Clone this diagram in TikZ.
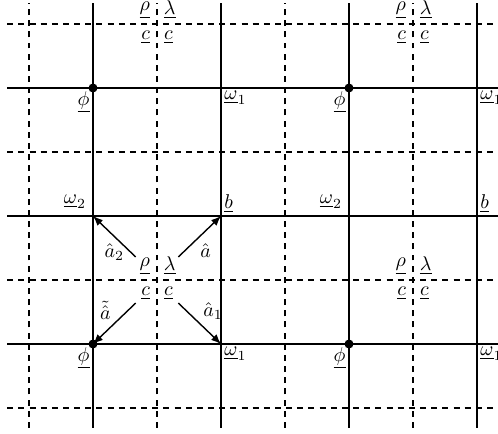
\documentclass[tikz,border=0pt]{standalone}
\usetikzlibrary{arrows.meta}
\begin{document}
\begin{tikzpicture}[scale=1.129, every node/.style={font=\normalsize},
  solidline/.style={line width=0.9pt},
  halfline/.style={line width=0.9pt, dash pattern=on 3pt off 2.6pt},
  hop/.style={line width=0.7pt, -{Latex[length=5pt,width=4pt]}},
  tag/.style={inner sep=1.5pt},
  frac/.style={inner xsep=3.3pt, inner ysep=2.4pt}]
  \useasboundingbox (-1.453,-3.406) rectangle (6.328,3.375);
  \clip (-1.453,-3.406) rectangle (6.328,3.375);

  % lattice
  \foreach \x in {0,2,4,6} \draw[solidline] (\x,-3.31) -- (\x,3.33);
  \foreach \x in {-1,1,3,5} \draw[halfline] (\x,-3.31) -- (\x,3.33);
  \foreach \y in {-2,0,2} \draw[solidline] (-1.34,\y) -- (6.6,\y);
  \foreach \y in {-3,-1,1,3} \draw[halfline] (-1.34,\y) -- (6.6,\y);

  % cell corners
  \foreach \x/\y/\n in {0/2/a, 4/2/b, 0/-2/c, 4/-2/d} {
    \fill (\x,\y) circle (2pt);
    \node[tag, below left] (phi\n) at (\x,\y) {$\underline{\phi}$};
    \node[tag, below right] (omo\n) at (\x+2,\y) {$\underline{\omega}_1$};
  }
  \foreach \x/\n in {0/a, 4/b} {
    \node[above left] (omt\n) at (\x,0) {$\underline{\omega}_2$};
    \node[tag, above right] (bb\n) at (\x+2,0) {$\underline{b}$};
  }

  % cell centres
  \foreach \x/\y/\n in {1/3/a, 5/3/b, 1/-1/c, 5/-1/d} {
    \node[frac, above left] (rho\n) at (\x,\y) {$\underline{\rho}$};
    \node[below left] (cl\n) at (\x,\y) {$\underline{c}$};
    \node[frac, above right] (lam\n) at (\x,\y) {$\underline{\lambda}$};
    \node[below right] (cr\n) at (\x,\y) {$\underline{c}$};
  }

  \coordinate (W2) at (0,0);
  \coordinate (B) at (2,0);
  \coordinate (PHI) at (0,-2);
  \coordinate (W1) at (2,-2);
  \coordinate (s2) at (0.667,-0.64);
  \coordinate (s0) at (1.333,-0.64);
  \coordinate (s3) at (0.667,-1.36);
  \coordinate (s1) at (1.333,-1.36);

  \draw[hop] (s2) -- (W2) node[midway, below] (ha2) {$\hat{a}_2$};
  \draw[hop] (s0) -- (B) node[midway, below, xshift=3pt] (ha) {$\hat{a}$};
  \draw[hop] (s3) -- (PHI) node[midway, tag, above left] (hta) {$\tilde{\hat{a}}$};
  \draw[hop] (s1) -- (W1) node[midway, tag, above right] (ha1) {$\hat{a}_1$};
\end{tikzpicture}
\end{document}
